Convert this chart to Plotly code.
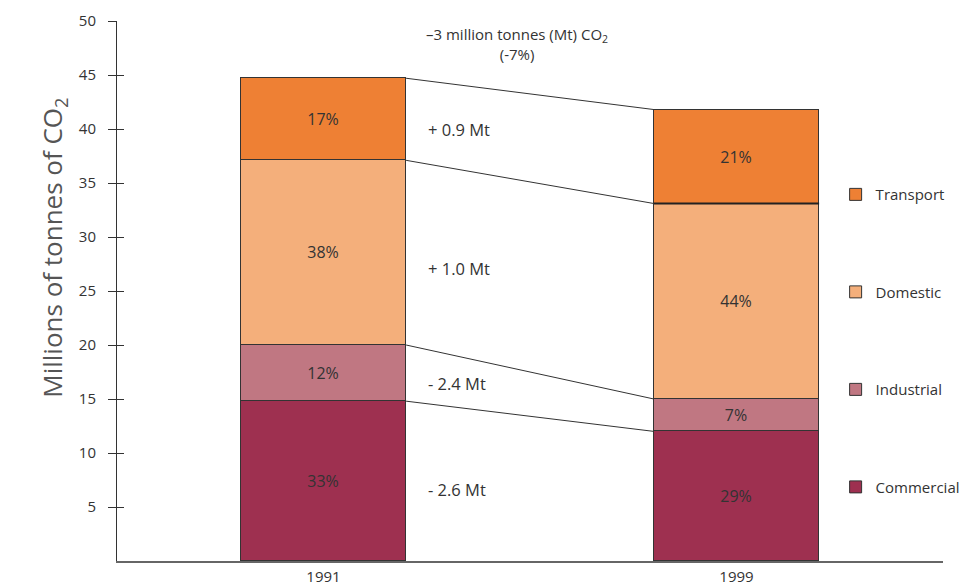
import plotly.graph_objects as go

years = ["1991", "1999"]
sectors = ["Commercial", "Industrial", "Domestic", "Transport"]
values = {
    "Commercial": [14.8, 12.0],
    "Industrial": [5.2, 3.0],
    "Domestic": [17.1, 18.1],
    "Transport": [7.6, 8.7],
}
pct_labels = {
    "Commercial": ["33%", "29%"],
    "Industrial": ["12%", "7%"],
    "Domestic": ["38%", "44%"],
    "Transport": ["17%", "21%"],
}
change_labels = ["- 2.6 Mt", "- 2.4 Mt", "+ 1.0 Mt", "+ 0.9 Mt"]
change_y = [6.6, 16.4, 27.1, 40.0]
colors = {
    "Commercial": "#9E3050",
    "Industrial": "#C07782",
    "Domestic": "#F4AF7B",
    "Transport": "#EE8034",
}
y_ticks = [5, 10, 15, 20, 25, 30, 35, 40, 45, 50]

FONT = "Open Sans"
TXT = "#333333"
xpos = [0, 1]
bar_w = 0.4

fig = go.Figure()
for i, s in enumerate(sectors):
    fig.add_trace(go.Bar(
        x=xpos, y=values[s], name=s, width=bar_w,
        marker=dict(color=colors[s], line=dict(color="#333333", width=1)),
        text=pct_labels[s], textposition="inside", insidetextanchor="middle",
        textangle=0, constraintext="none",
        textfont=dict(family=FONT, size=16, color=TXT),
        legendgroup=s, legendrank=len(sectors) - i, hoverinfo="skip",
    ))

# connector lines between stacked tops
cum = [0.0, 0.0]
tops = []
for s in sectors:
    cum = [cum[0] + values[s][0], cum[1] + values[s][1]]
    tops.append(list(cum))
    fig.add_trace(go.Scatter(
        x=[xpos[0] + bar_w / 2, xpos[1] - bar_w / 2], y=cum, mode="lines",
        line=dict(color="#333333", width=1), showlegend=False, hoverinfo="skip",
    ))

# heavier boundary between Domestic and Transport in 1999
b = tops[2][1]
fig.add_trace(go.Scatter(
    x=[xpos[1] - bar_w / 2, xpos[1] + bar_w / 2], y=[b, b], mode="lines",
    line=dict(color="#222222", width=2.2), showlegend=False, hoverinfo="skip",
))

# Change labels
for lab, yy in zip(change_labels, change_y):
    fig.add_annotation(x=0.248, y=yy, xref="x", yref="y", text=lab, showarrow=False,
                       xanchor="left", font=dict(family=FONT, size=16.5, color=TXT))

fig.add_annotation(x=0.468, y=47.9, xref="x", yref="y",
                   text="\u20133 million tonnes (Mt) CO<sub>2</sub><br>(-7%)",
                   showarrow=False, font=dict(family=FONT, size=15, color=TXT))

fig.add_annotation(x=-0.103, y=0.58, xref="paper", yref="paper",
                   text="Millions of tonnes of CO<sub>2</sub>", textangle=-90, showarrow=False,
                   font=dict(family=FONT, size=26, color="#555555"))

fig.update_layout(
    width=960, height=586,
    margin=dict(l=117, r=17, t=21, b=25, autoexpand=False),
    paper_bgcolor="white", plot_bgcolor="white",
    barmode="stack", bargap=0,
    font=dict(family=FONT, size=15, color=TXT),
    showlegend=True,
    legend=dict(x=0.870, y=0.709, xanchor="left", yanchor="top",
                traceorder="grouped", tracegroupgap=75,
                font=dict(family=FONT, size=15, color=TXT),
                bgcolor="rgba(0,0,0,0)", itemclick=False),
    xaxis=dict(range=[-0.5, 1.5], tickvals=xpos, ticktext=years, showgrid=False,
               zeroline=False, showline=True, linecolor="#666666", linewidth=2,
               ticks="", ticklabelstandoff=1, automargin=False,
               tickfont=dict(family=FONT, size=15, color=TXT)),
    yaxis=dict(range=[0, 50], tickvals=y_ticks, showgrid=False, zeroline=False,
               showline=True, linecolor="#333333", linewidth=1, automargin=False,
               ticks="outside", ticklen=8, tickcolor="#333333", ticklabelstandoff=9,
               tickfont=dict(family=FONT, size=15, color=TXT)),
    yaxis2=dict(range=[0, 50], tickvals=y_ticks, overlaying="y", side="left",
                showgrid=False, zeroline=False, showline=False, automargin=False,
                ticks="inside", ticklen=7, tickcolor="#333333", showticklabels=False),
)
fig.add_trace(go.Scatter(x=[None], y=[None], yaxis="y2", showlegend=False, hoverinfo="skip"))

fig.write_html("out.html")
